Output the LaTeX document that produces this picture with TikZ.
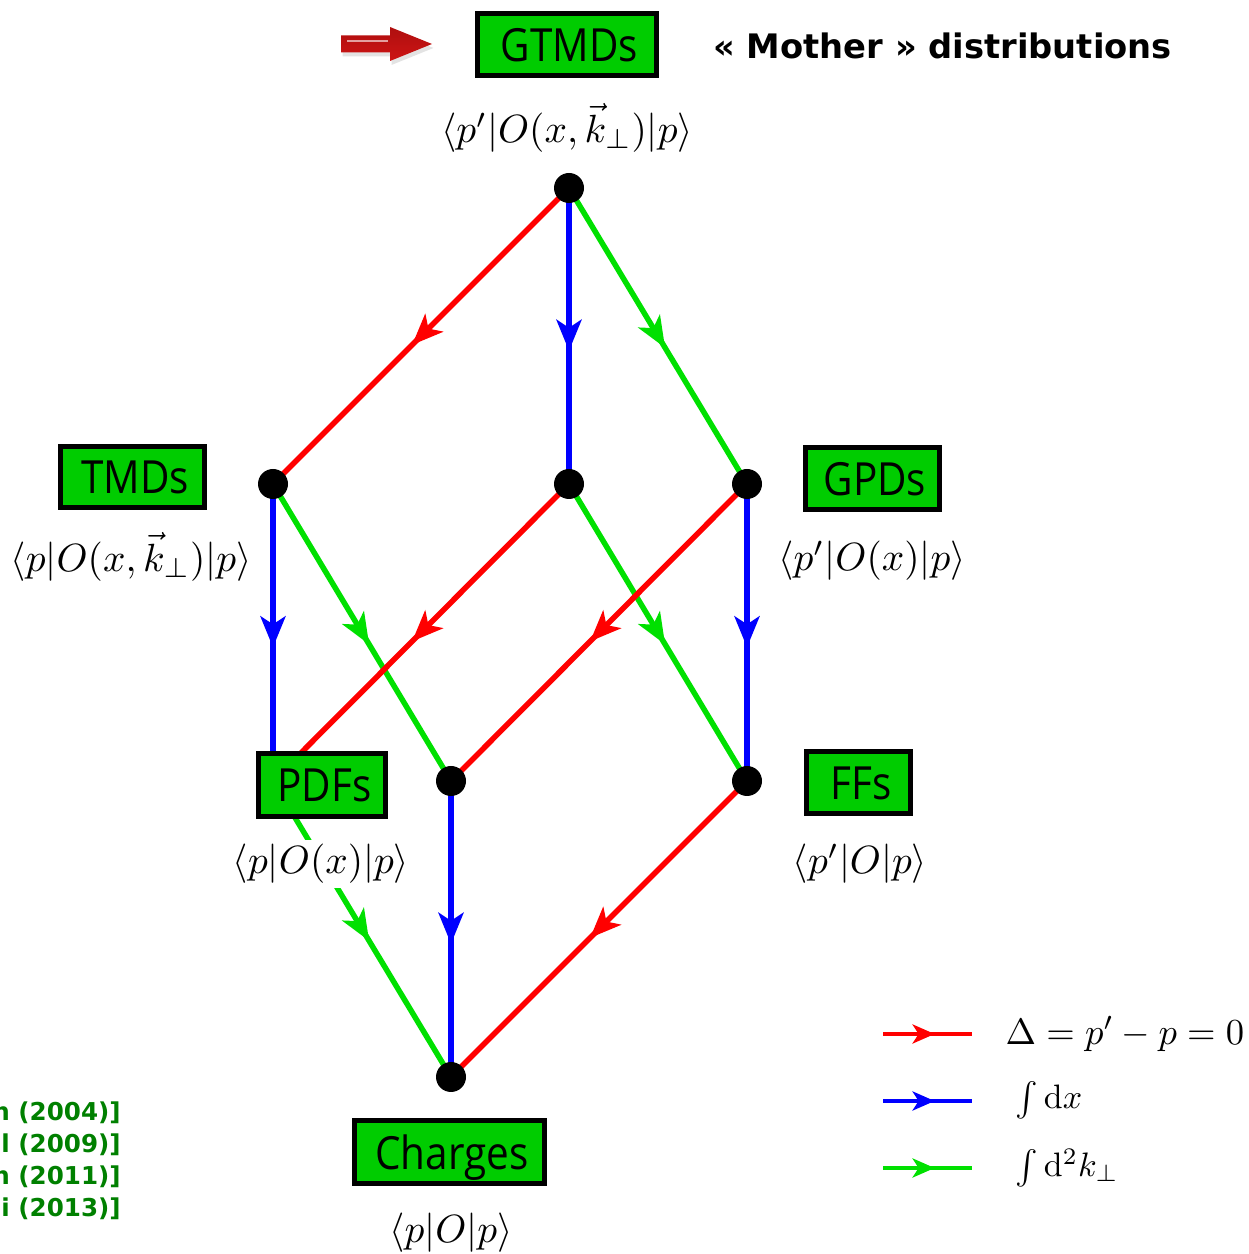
\documentclass[tikz,border=0pt]{standalone}
\usepackage{fontspec}
\setsansfont[FakeStretch=0.885]{Open Sans}
\newfontfamily\notefont{DejaVu Sans}
\usetikzlibrary{arrows.meta, decorations.markings, backgrounds, shadows}
\definecolor{boxgreen}{RGB}{0,204,0}
\definecolor{linegreen}{RGB}{0,224,0}
\definecolor{notegreen}{RGB}{0,128,0}
\definecolor{arrowred}{RGB}{205,20,20}
\definecolor{arrowdark}{RGB}{175,15,15}
\tikzset{
  midarrow/.style={postaction={decorate}, decoration={markings,
    mark=at position #1 with {\arrow{Stealth[length=0.62cm, width=0.5cm, inset=0.16cm]}}}},
  legarrow/.style={postaction={decorate}, decoration={markings,
    mark=at position 0.58 with {\arrow{Stealth[length=0.44cm, width=0.38cm, inset=0.12cm]}}}},
  redflow/.style={line width=0.11cm, red, midarrow=0.53},
  blueflow/.style={line width=0.11cm, blue, midarrow=0.55},
  greenflow/.style={line width=0.11cm, linegreen, midarrow=0.54},
  dot/.style={circle, fill=black, inner sep=0pt, minimum size=0.6cm},
  distbox/.style={draw=black, line width=0.1cm, fill=boxgreen, inner sep=0pt,
    font=\sffamily\fontsize{26}{29}\selectfont, execute at begin node={\kern0.12cm}},
  matrixel/.style={fill=white, inner sep=1pt, scale=2.24},
  legtext/.style={anchor=west, inner sep=0pt, scale=1.93},
  citeline/.style={anchor=east, inner sep=0pt, text=notegreen,
    font=\notefont\bfseries\fontsize{14}{16}\selectfont},
}
\begin{document}
\begin{tikzpicture}
  \useasboundingbox (0,0) rectangle (24.98,25.08);

  % -- Lattice points --
  \node[dot] (top) at (11.38, 21.32) {};
  \node[dot] (midleft) at (5.46, 15.40) {};
  \node[dot] (midcentre) at (11.38, 15.40) {};
  \node[dot] (midright) at (14.94, 15.40) {};
  \coordinate (lowleft) at (5.46, 9.46);
  \node[dot] (lowcentre) at (9.02, 9.46) {};
  \node[dot] (lowright) at (14.94, 9.46) {};
  \node[dot] (bottom) at (9.02, 3.54) {};

  % -- Distribution boxes --
  \node[distbox, minimum width=3.58cm, minimum height=1.24cm] (gtmds) at (11.33, 24.18) {GTMDs};
  \node[distbox, minimum width=2.88cm, minimum height=1.22cm] (tmds) at (2.64, 15.53) {TMDs};
  \node[distbox, minimum width=2.68cm, minimum height=1.24cm] (gpds) at (17.44, 15.50) {GPDs};
  \node[distbox, minimum width=2.54cm, minimum height=1.26cm] (pdfs) at (6.43, 9.37) {PDFs};
  \node[distbox, minimum width=2.08cm, minimum height=1.24cm] (ffs) at (17.16, 9.42) {FFs};
  \node[distbox, text depth=0pt, minimum width=3.80cm, minimum height=1.26cm] (charges) at (8.98, 2.03) {Charges};

  % -- Matrix elements --
  \node[matrixel] (gtmdsel) at (11.34, 22.52) {$\langle p'|O(x,\vec{k}_\perp)|p\rangle$};
  \node[matrixel] (tmdsel) at (2.62, 13.94) {$\langle p|O(x,\vec{k}_\perp)|p\rangle$};
  \node[matrixel] (gpdsel) at (17.44, 13.86) {$\langle p'|O(x)|p\rangle$};
  \node[matrixel] (pdfsel) at (6.42, 7.80) {$\langle p|O(x)|p\rangle$};
  \node[matrixel] (ffsel) at (17.20, 7.80) {$\langle p'|O|p\rangle$};
  \node[matrixel] (chargesel) at (9.02, 0.42) {$\langle p|O|p\rangle$};

  % -- Reductions --
  \begin{scope}[on background layer]
    \draw[redflow] (top.center) -- (midleft.center);
    \draw[blueflow] (top.center) -- (midcentre.center);
    \draw[greenflow] (top.center) -- (midright.center);
    \draw[blueflow] (midleft.center) -- (lowleft);
    \draw[greenflow] (midleft.center) -- (lowcentre.center);
    \draw[redflow] (midcentre.center) -- (lowleft);
    \draw[greenflow] (midcentre.center) -- (lowright.center);
    \draw[redflow] (midright.center) -- (lowcentre.center);
    \draw[blueflow] (midright.center) -- (lowright.center);
    \draw[greenflow] (lowleft) -- (bottom.center);
    \draw[blueflow] (lowcentre.center) -- (bottom.center);
    \draw[redflow] (lowright.center) -- (bottom.center);
  \end{scope}

  % -- Title arrow --
  \shade[top color=arrowdark, bottom color=arrowred, drop shadow={shadow xshift=0.03cm, shadow yshift=-0.08cm, opacity=0.22}]
    (6.82, 24.03) -- (7.80, 24.03) -- (7.80, 23.86) -- (8.64, 24.20)
    -- (7.80, 24.54) -- (7.80, 24.37) -- (6.82, 24.37) -- cycle;
  \draw[white, opacity=0.6, line width=0.03cm] (6.94, 24.26) -- (7.76, 24.26);

  % -- Title --
  \node[anchor=west, inner sep=0pt, font=\notefont\bfseries\fontsize{19.2}{22}\selectfont] (mother) at (14.26, 24.16)
    {« Mother » distributions};

  % -- Legend --
  \coordinate (leg1a) at (17.66, 4.40);
  \coordinate (leg1b) at (19.44, 4.40);
  \coordinate (leg2a) at (17.66, 3.06);
  \coordinate (leg2b) at (19.44, 3.06);
  \coordinate (leg3a) at (17.66, 1.72);
  \coordinate (leg3b) at (19.44, 1.72);
  \draw[line width=0.09cm, red, legarrow] (leg1a) -- (leg1b);
  \draw[line width=0.09cm, blue, legarrow] (leg2a) -- (leg2b);
  \draw[line width=0.09cm, linegreen, legarrow] (leg3a) -- (leg3b);
  \node[legtext, scale=1.08] (legdelta) at (20.10, 4.40) {$\Delta=p'-p=0$};
  \node[legtext] (legdx) at (20.30, 3.08) {$\int\mathrm{d}x$};
  \node[legtext] (legdk) at (20.30, 1.72) {$\int\mathrm{d}^2k_\perp$};

  % -- Citations --
  \node[citeline] (cite1) at (2.42, 2.82) {n (2004)]};
  \node[citeline] (cite2) at (2.42, 2.18) {l (2009)]};
  \node[citeline] (cite3) at (2.42, 1.54) {n (2011)]};
  \node[citeline] (cite4) at (2.42, 0.90) {i (2013)]};

\end{tikzpicture}
\end{document}
